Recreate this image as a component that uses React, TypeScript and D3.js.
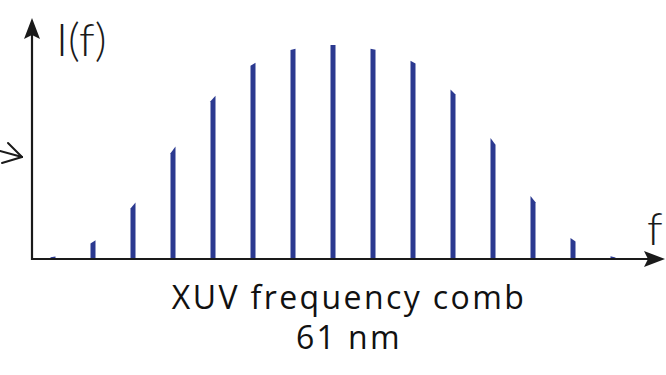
import React from "react";
import * as d3 from "d3";

// Comb line intensities (relative units), one per harmonic
const harmonics = [0, 1, 2, 3, 4, 5, 6, 7, 8, 9, 10, 11, 12, 13, 14];
const intensity = [1, 8, 25, 51, 75, 91, 98, 100, 98, 92, 78, 55, 28, 9, 1];

const yAxisLabel = "I(f)";
const xAxisLabel = "f";
const titleLines = ["XUV frequency comb", "61 nm"];

const W = 666;
const H = 375;
const originX = 32;
const baseY = 259;
const toothW = 5;

export default function App() {
  const x = d3
    .scalePoint<number>()
    .domain(harmonics)
    .range([53, 613]);
  const y = d3.scaleLinear().domain([0, 100]).range([baseY, 45]);
  const step = x.step();

  // each tooth's top follows the local slope of the envelope
  const teeth = harmonics.map((h, i) => {
    const prev = intensity[Math.max(0, i - 1)];
    const next = intensity[Math.min(intensity.length - 1, i + 1)];
    const slope = (next - prev) / (2 * step);
    const v = intensity[i];
    const cx = x(h) as number;
    const lv = Math.max(0, v - (slope * toothW) / 2);
    const rv = Math.max(0, v + (slope * toothW) / 2);
    const path = d3.path();
    path.moveTo(cx - toothW / 2, baseY);
    path.lineTo(cx - toothW / 2, y(lv));
    path.lineTo(cx + toothW / 2, y(rv));
    path.lineTo(cx + toothW / 2, baseY);
    path.closePath();
    return { key: h, d: path.toString() };
  });

  const axisColor = "#1a1a1a";

  return (
    <svg
      width={W}
      height={H}
      style={{ position: "absolute", left: 0, top: 0, background: "#fff" }}
    >
      {teeth.map((t) => (
        <path key={t.key} d={t.d} fill="#2b3990" />
      ))}

      {/* axes */}
      <line x1={originX} y1={baseY} x2={650} y2={baseY} stroke={axisColor} strokeWidth={2.2} />
      <line x1={originX} y1={baseY + 1} x2={originX} y2={32} stroke={axisColor} strokeWidth={2.2} />
      <path d={`M${originX},18 L${originX - 8},39 L${originX},35 L${originX + 8},39 Z`} fill={axisColor} />
      <path d={`M665,${baseY} L644,${baseY - 8} L648,${baseY} L644,${baseY + 8} Z`} fill={axisColor} />

      {/* incoming arrow head at left edge */}
      <g stroke={axisColor} strokeWidth={2} fill="none" strokeLinecap="round">
        <line x1={8} y1={143} x2={22} y2={157} />
        <line x1={0} y1={151} x2={22} y2={157} />
        <line x1={2} y1={163} x2={22} y2={157} />
      </g>

      <text
        x={56}
        y={56}
        fontFamily="Lato, 'Open Sans', sans-serif"
        fontWeight={300}
        fontSize={46}
        fill={axisColor}
      >
        {yAxisLabel}
      </text>
      <text
        x={647}
        y={245}
        fontFamily="Lato, 'Open Sans', sans-serif"
        fontWeight={300}
        fontSize={46}
        fill={axisColor}
      >
        {xAxisLabel}
      </text>

      {titleLines.map((s, i) => (
        <text
          key={s}
          x={349}
          y={309 + i * 40}
          textAnchor="middle"
          fontFamily="'Open Sans', sans-serif"
          fontSize={32}
          letterSpacing={2.4}
          fill="#111"
        >
          {s}
        </text>
      ))}
    </svg>
  );
}
